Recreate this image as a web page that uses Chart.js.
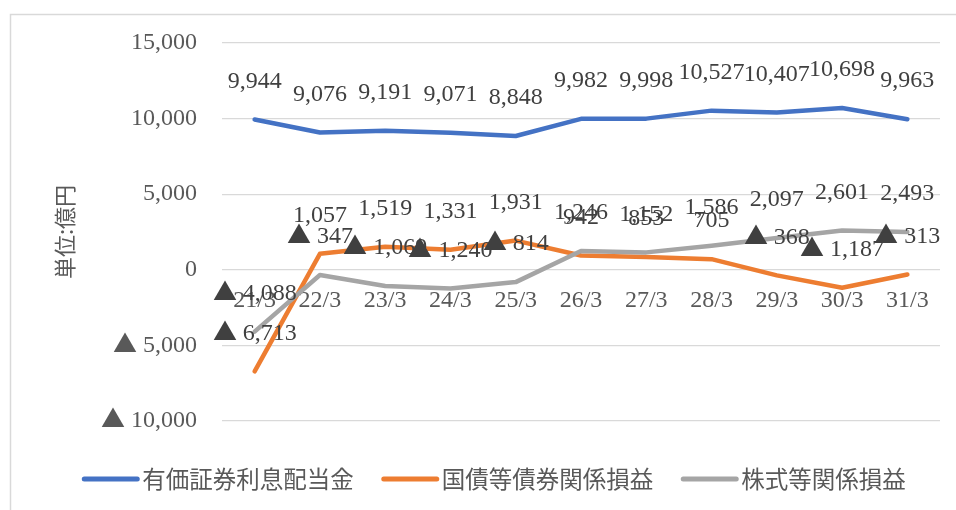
<!DOCTYPE html>
<html lang="ja">
<head>
<meta charset="utf-8">
<title>有価証券利息配当金・債券・株式関係損益</title>
<script src="https://cdn.jsdelivr.net/npm/chart.js@4/dist/chart.umd.min.js"></script>
<style>
  /* wider triangle mark for negative values, taken from the CJK face */
  @font-face {
    font-family: 'TriMark';
    src: local('Noto Sans CJK JP Regular'), local('NotoSansCJKjp-Regular'), local('Noto Sans CJK JP');
    unicode-range: U+25B2;
  }
  html, body { margin: 0; padding: 0; background: #fff; }
  #wrap { width: 956px; height: 510px; position: relative; }
</style>
</head>
<body>
<div id="wrap"><canvas id="myChart" width="956" height="510"></canvas></div>
<script>
const categories = ['21/3', '22/3', '23/3', '24/3', '25/3', '26/3', '27/3', '28/3', '29/3', '30/3', '31/3'];
const seriesNames = ['有価証券利息配当金', '国債等債券関係損益', '株式等関係損益'];
const dividendIncome = [9944, 9076, 9191, 9071, 8848, 9982, 9998, 10527, 10407, 10698, 9963];
const bondGains = [-6713, 1057, 1519, 1331, 1931, 942, 853, 705, -368, -1187, -313];
const equityGains = [-4088, -347, -1069, -1240, -814, 1246, 1152, 1586, 2097, 2601, 2493];
const yTickValues = [-10000, -5000, 0, 5000, 10000, 15000];
const unitLabel = '単位:億円';

const colors = ['#4472c4', '#ed7d31', '#a5a5a5'];
const NUM_FONT = 'TriMark, "Liberation Serif", "DejaVu Serif", serif';
const CJK_FONT = '"Noto Sans CJK JP", "Noto Sans", sans-serif';

// negative numbers are written with a leading triangle, e.g. ▲ 5,000
function fmt(v) {
    const s = Math.abs(v).toLocaleString('en-US');
    return v < 0 ? '▲ ' + s : s;
}

const extrasPlugin = {
    id: 'extras',
    beforeDraw: (chart) => {
        const { ctx } = chart;
        ctx.save();
        ctx.strokeStyle = '#d9d9d9';
        ctx.lineWidth = 1.5;
        ctx.strokeRect(10.5, 14.5, 1000, 600);
        ctx.restore();
    },
    afterDatasetsDraw: (chart) => {
        const { ctx } = chart;
        ctx.save();
        ctx.font = '24px ' + NUM_FONT;
        ctx.fillStyle = '#404040';
        ctx.textAlign = 'center';
        ctx.textBaseline = 'middle';
        chart.data.datasets.forEach((ds, i) => {
            const meta = chart.getDatasetMeta(i);
            meta.data.forEach((pt, j) => {
                ctx.fillText(fmt(ds.data[j]), pt.x, pt.y - 38);
            });
        });
        ctx.restore();
    },
    afterDraw: (chart) => {
        const { ctx, chartArea } = chart;
        ctx.save();

        // axis unit, rotated
        ctx.font = '22px ' + CJK_FONT;
        ctx.fillStyle = '#595959';
        ctx.textAlign = 'center';
        ctx.textBaseline = 'middle';
        ctx.translate(65, (chartArea.top + chartArea.bottom) / 2);
        ctx.rotate(-Math.PI / 2);
        ctx.fillText(unitLabel, 0, 0);
        ctx.setTransform(1, 0, 0, 1, 0, 0);

        // legend along the bottom
        ctx.font = '23.5px ' + CJK_FONT;
        ctx.textAlign = 'left';
        const lineW = 57, gapText = 3, gapItem = 28, y = 479;
        const items = chart.data.datasets.map(ds => ({
            label: ds.label, color: ds.borderColor, w: ctx.measureText(ds.label).width
        }));
        const total = items.reduce((a, it) => a + lineW + gapText + it.w, 0) + gapItem * (items.length - 1);
        let x = 494 - total / 2;
        items.forEach(it => {
            ctx.strokeStyle = it.color;
            ctx.lineWidth = 5;
            ctx.lineCap = 'round';
            ctx.beginPath();
            ctx.moveTo(x + 2, y);
            ctx.lineTo(x + lineW - 2, y);
            ctx.stroke();
            ctx.fillStyle = '#595959';
            ctx.fillText(it.label, x + lineW + gapText, y);
            x += lineW + gapText + it.w + gapItem;
        });
        ctx.restore();
    }
};

const seriesData = [dividendIncome, bondGains, equityGains];
const datasets = seriesNames.map((name, i) => ({
    label: name,
    data: seriesData[i],
    borderColor: colors[i],
    backgroundColor: colors[i],
    borderWidth: 4.5,
    borderCapStyle: 'round',
    borderJoinStyle: 'round',
    pointRadius: 0,
    tension: 0,
    order: 2 - i
}));

function drawChart() {
    const ctx = document.getElementById('myChart').getContext('2d');
    new Chart(ctx, {
        type: 'line',
        data: { labels: categories, datasets: datasets },
        plugins: [extrasPlugin],
        options: {
            responsive: false,
            animation: false,
            layout: { padding: { top: 43, right: 16, bottom: 89, left: 0 } },
            plugins: {
                legend: { display: false },
                tooltip: { enabled: false }
            },
            scales: {
                x: {
                    type: 'category',
                    offset: true,
                    position: { y: 0 },
                    grid: { display: false, drawTicks: false },
                    border: { display: false },
                    ticks: {
                        color: '#595959',
                        font: { family: NUM_FONT, size: 24 },
                        padding: 17,
                        maxRotation: 0,
                        autoSkip: false
                    }
                },
                y: {
                    min: yTickValues[0],
                    max: yTickValues[yTickValues.length - 1],
                    afterFit: (scale) => { scale.width = 222; },
                    afterBuildTicks: (scale) => {
                        scale.ticks = yTickValues.map(v => ({ value: v }));
                    },
                    grid: { color: '#d9d9d9', lineWidth: 1.3, drawTicks: false },
                    border: { display: false },
                    ticks: {
                        color: '#595959',
                        font: { family: NUM_FONT, size: 24 },
                        padding: 25,
                        callback: (v) => fmt(v)
                    }
                }
            }
        }
    });
}

// make sure the triangle face is ready before the canvas is painted
document.fonts.load('24px TriMark', '▲').catch(() => {}).then(drawChart);
</script>
</body>
</html>
